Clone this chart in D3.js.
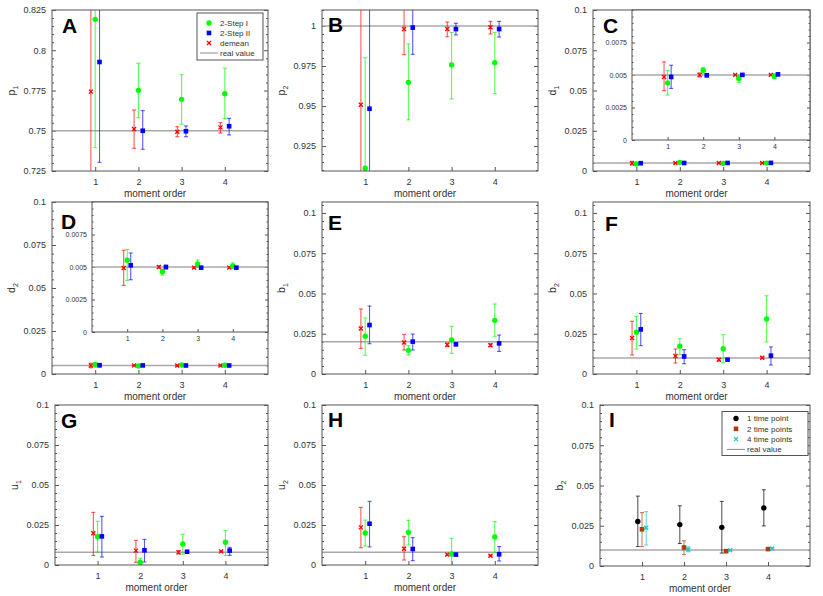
<!DOCTYPE html>
<html>
<head>
<meta charset="utf-8">
<script src="https://cdn.jsdelivr.net/npm/d3@7"></script>
<style>
body { margin: 0; background: #fff; }
svg text { font-family: "Liberation Sans", Arial, sans-serif; fill: #333; }
</style>
</head>
<body>
<div id="chart"></div>
<script>
// moment order on the x axis
const order = [1, 2, 3, 4];
const xTicks = [1, 2, 3, 4];
const yTicksA = [0.725, 0.75, 0.775, 0.8, 0.825];
const yTicksB = [0.925, 0.95, 0.975, 1];
const yTicksSmall = [0, 0.025, 0.05, 0.075, 0.1];
const yTicksInset = [0, 0.0025, 0.005, 0.0075];

// each row: [estimate, lower, upper]
const p1_demean = [[0.7743, 0.70, 0.86], [0.7511, 0.7391, 0.7629], [0.7494, 0.7463, 0.7525], [0.7521, 0.7486, 0.7550]];
const p1_step1  = [[0.8192, 0.7395, 0.88], [0.7751, 0.7581, 0.7919], [0.7695, 0.7540, 0.7848], [0.7730, 0.7575, 0.7888]];
const p1_step2  = [[0.7927, 0.7304, 0.86], [0.7500, 0.7385, 0.7625], [0.7497, 0.7463, 0.7530], [0.7528, 0.7474, 0.7577]];

const p2_demean = [[0.9508, 0.88, 1.02], [0.9981, 0.9821, 1.02], [0.9981, 0.9933, 1.0025], [0.9992, 0.9950, 1.0029]];
const p2_step1  = [[0.9111, 0.85, 0.9802], [0.9648, 0.9414, 0.9888], [0.9756, 0.9544, 0.9960], [0.9771, 0.9577, 0.9960]];
const p2_step2  = [[0.9483, 0.88, 1.02], [0.9990, 0.9823, 1.02], [0.9981, 0.9944, 1.0017], [0.9981, 0.9931, 1.0029]];

const d1_demean = [[0.00485, 0.00379, 0.00601], [0.00501, 0.00485, 0.00516], [0.00501, 0.00496, 0.00506], [0.00501, 0.00496, 0.00506]];
const d1_step1  = [[0.00439, 0.00346, 0.00534], [0.00536, 0.00513, 0.00557], [0.00474, 0.00441, 0.00501], [0.00490, 0.00472, 0.00508]];
const d1_step2  = [[0.00485, 0.00397, 0.00575], [0.00498, 0.00485, 0.00511], [0.00501, 0.00495, 0.00507], [0.00505, 0.00495, 0.00516]];

const d2_demean = [[0.00492, 0.00358, 0.00629], [0.00500, 0.00490, 0.00510], [0.00495, 0.00490, 0.00500], [0.00495, 0.00490, 0.00500]];
const d2_step1  = [[0.00552, 0.00397, 0.00635], [0.00464, 0.00438, 0.00482], [0.00523, 0.00498, 0.00554], [0.00508, 0.00490, 0.00531]];
const d2_step2  = [[0.00513, 0.00402, 0.00608], [0.00500, 0.00485, 0.00513], [0.00495, 0.00490, 0.00500], [0.00495, 0.00490, 0.00500]];

const b1_demean = [[0.0283, 0.0159, 0.0404], [0.0196, 0.0149, 0.0246], [0.0182, 0.0170, 0.0192], [0.0178, 0.0170, 0.0188]];
const b1_step1  = [[0.0234, 0.0116, 0.0348], [0.0147, 0.0118, 0.0176], [0.0211, 0.0128, 0.0296], [0.0333, 0.0234, 0.0435]];
const b1_step2  = [[0.0304, 0.0188, 0.0422], [0.0201, 0.0149, 0.0248], [0.0184, 0.0178, 0.0190], [0.0190, 0.0140, 0.0242]];

const b2_demean = [[0.0224, 0.0118, 0.0327], [0.0112, 0.0068, 0.0155], [0.0089, 0.0081, 0.0097], [0.0101, 0.0096, 0.0106]];
const b2_step1  = [[0.0259, 0.0155, 0.0358], [0.0172, 0.0120, 0.0219], [0.0157, 0.0070, 0.0244], [0.0342, 0.0199, 0.0486]];
const b2_step2  = [[0.0277, 0.0176, 0.0376], [0.0109, 0.0064, 0.0151], [0.0089, 0.0085, 0.0093], [0.0114, 0.0056, 0.0168]];

const u1_demean = [[0.0198, 0.0060, 0.0329], [0.0090, 0.0017, 0.0154], [0.0079, 0.0069, 0.0090], [0.0085, 0.0082, 0.0088]];
const u1_step1  = [[0.0177, 0.0081, 0.0273], [0.0017, 0.0002, 0.0042], [0.0131, 0.0067, 0.0192], [0.0142, 0.0060, 0.0215]];
const u1_step2  = [[0.0179, 0.0050, 0.0304], [0.0092, 0.0019, 0.0160], [0.0083, 0.0078, 0.0088], [0.0090, 0.0060, 0.0110]];

const u2_demean = [[0.0235, 0.0108, 0.0360], [0.0102, 0.0031, 0.0177], [0.0065, 0.0060, 0.0070], [0.0058, 0.0055, 0.0061]];
const u2_step1  = [[0.0200, 0.0119, 0.0281], [0.0204, 0.0125, 0.0279], [0.0069, -0.003, 0.0167], [0.0175, 0.0079, 0.0271]];
const u2_step2  = [[0.0258, 0.0113, 0.0398], [0.0100, 0.0027, 0.0171], [0.0065, 0.0061, 0.0069], [0.0067, 0.0025, 0.0115]];

const b2_tp1 = [[0.0276, 0.0121, 0.0434], [0.0257, 0.0140, 0.0374], [0.0240, 0.0080, 0.0401], [0.0361, 0.0249, 0.0474]];
const b2_tp2 = [[0.0228, 0.0121, 0.0332], [0.0115, 0.0071, 0.0157], [0.0092, 0.0088, 0.0096], [0.0105, 0.0102, 0.0108]];
const b2_tp4 = [[0.0238, 0.0130, 0.0338], [0.0103, 0.0088, 0.0119], [0.0098, 0.0095, 0.0101], [0.0109, 0.0106, 0.0112]];

const realValues = {A: 0.75, B: 1, C: 0.005, D: 0.005, E: 0.02, F: 0.01, G: 0.008, H: 0.008, I: 0.01};

const momentStyles = [
    {name: "demean", color: "#ff0000", shape: "cross", dx: -0.1},
    {name: "2-Step I", color: "#00ff00", shape: "circle", dx: 0},
    {name: "2-Step II", color: "#0000ff", shape: "square", dx: 0.1}
];
const timeStyles = [
    {name: "1 time point", color: "#000000", shape: "circle", dx: -0.1},
    {name: "2 time points", color: "#b03c0a", shape: "square", dx: 0},
    {name: "4 time points", color: "#19c8c8", shape: "cross", dx: 0.1}
];

const panels = [
    {key: "A", x: 52, y: 10, w: 216, h: 161, domain: [0.725, 0.825], ticks: yTicksA, label: "p", sub: "1",
     series: [p1_demean, p1_step1, p1_step2], styles: momentStyles, lx: 10, ly: 23,
     legend: {x: 145, y: 3, w: 66, h: 47, row0: 10, step: 10, mx: 12, order: [1, 2, 0]}},
    {key: "B", x: 322, y: 10, w: 216, h: 161, domain: [0.9094, 1.01], ticks: yTicksB, label: "p", sub: "2",
     series: [p2_demean, p2_step1, p2_step2], styles: momentStyles, lx: 6, ly: 22},
    {key: "C", x: 593, y: 10, w: 217, h: 161, domain: [0, 0.1], ticks: yTicksSmall, label: "d", sub: "1",
     series: [d1_demean, d1_step1, d1_step2], styles: momentStyles, lx: 10, ly: 23,
     inset: {x: 632, y: 10, w: 178, h: 130}},
    {key: "D", x: 52, y: 202, w: 216, h: 172, domain: [0, 0.1], ticks: yTicksSmall, label: "d", sub: "2",
     series: [d2_demean, d2_step1, d2_step2], styles: momentStyles, lx: 9, ly: 26.5,
     inset: {x: 92, y: 202, w: 176, h: 130}},
    {key: "E", x: 322, y: 202, w: 216, h: 172, domain: [0, 0.1068], ticks: yTicksSmall, label: "b", sub: "1",
     series: [b1_demean, b1_step1, b1_step2], styles: momentStyles, lx: 6, ly: 28},
    {key: "F", x: 593, y: 202, w: 217, h: 172, domain: [0, 0.1068], ticks: yTicksSmall, label: "b", sub: "2",
     series: [b2_demean, b2_step1, b2_step2], styles: momentStyles, lx: 12, ly: 29},
    {key: "G", x: 55, y: 405, w: 213, h: 160, domain: [0, 0.1], ticks: yTicksSmall, label: "u", sub: "1",
     series: [u1_demean, u1_step1, u1_step2], styles: momentStyles, lx: 6, ly: 23},
    {key: "H", x: 322, y: 405, w: 216, h: 160, domain: [0, 0.1], ticks: yTicksSmall, label: "u", sub: "2",
     series: [u2_demean, u2_step1, u2_step2], styles: momentStyles, lx: 6, ly: 22},
    {key: "I", x: 600, y: 405, w: 210, h: 161, domain: [0, 0.1], ticks: yTicksSmall, label: "b", sub: "2",
     series: [b2_tp1, b2_tp2, b2_tp4], styles: timeStyles, lx: 9, ly: 22,
     legend: {x: 122, y: 6.5, w: 86, h: 44, row0: 7, step: 10.3, mx: 14, order: [0, 1, 2]}}
];

const svg = d3.select("#chart").append("svg")
    .attr("width", 823)
    .attr("height", 596);

function minorValues(domain, step) {
    let k0 = Math.ceil(domain[0] / step - 1e-9), k1 = Math.floor(domain[1] / step + 1e-9);
    return d3.range(k0, k1 + 1).map((k) => +(k * step).toFixed(6));
}

function drawMark(sel, shape, color) {
    if (shape === "circle") {
        sel.append("circle").attr("r", 2.7).attr("fill", color);
    } else if (shape === "square") {
        sel.append("rect").attr("x", -2.3).attr("y", -2.3).attr("width", 4.6).attr("height", 4.6).attr("fill", color);
    } else {
        sel.append("path").attr("d", "M-2,-2L2,2M-2,2L2,-2")
            .attr("stroke", color).attr("stroke-width", 1.3).attr("fill", "none");
    }
}

function styleAxis(a, fs) {
    a.select(".domain").remove();
    a.selectAll(".tick line").attr("stroke", "#555");
    a.selectAll("text").attr("font-size", fs).attr("fill", "#333")
        .attr("font-family", "Liberation Sans, Arial, sans-serif");
}

// one set of axes with error bars; used for main panels and insets
function drawAxes(p, box, domain, ticks, opt, id) {
    let g = svg.append("g").attr("transform", `translate(${box.x},${box.y})`);
    let x = d3.scaleLinear().domain([0, 5]).range([0, box.w]);
    let y = d3.scaleLinear().domain(domain).range([box.h, 0]);

    g.append("rect").attr("width", box.w).attr("height", box.h).attr("fill", "#fff");
    g.append("clipPath").attr("id", "clip" + id)
        .append("rect").attr("width", box.w).attr("height", box.h);

    let minor = minorValues(domain, opt.minor).filter((v) => !ticks.some((t) => Math.abs(t - v) < 1e-9));

    styleAxis(g.append("g")
        .call(d3.axisLeft(y).tickValues(ticks).tickFormat(d3.format("~g")).tickSize(-opt.tl).tickPadding(opt.padY)), opt.fs);
    styleAxis(g.append("g")
        .call(d3.axisLeft(y).tickValues(minor).tickFormat("").tickSize(-opt.tl / 2)), opt.fs);
    styleAxis(g.append("g").attr("transform", `translate(${box.w},0)`)
        .call(d3.axisRight(y).tickValues(ticks).tickFormat("").tickSize(-opt.tl)), opt.fs);
    styleAxis(g.append("g").attr("transform", `translate(${box.w},0)`)
        .call(d3.axisRight(y).tickValues(minor).tickFormat("").tickSize(-opt.tl / 2)), opt.fs);
    styleAxis(g.append("g").attr("transform", `translate(0,${box.h})`)
        .call(d3.axisBottom(x).tickValues(xTicks).tickFormat(d3.format("d")).tickSize(-opt.tl).tickPadding(opt.padX)), opt.fs);

    // real value
    g.append("line")
        .attr("x1", 0).attr("x2", box.w)
        .attr("y1", y(realValues[p.key])).attr("y2", y(realValues[p.key]))
        .attr("stroke", "#a8a8a8").attr("stroke-width", 1.5);

    let bars = g.append("g").attr("clip-path", `url(#clip${id})`);
    p.series.forEach((data, s) => {
        let st = p.styles[s];
        let eb = bars.append("g").selectAll("g")
            .data(data)
            .enter()
            .append("g")
            .attr("transform", (d, i) => `translate(${x(order[i] + st.dx)},0)`)
            .attr("stroke", st.color)
            .attr("stroke-opacity", 0.65)
            .attr("stroke-width", 1.1);
        eb.append("line").attr("y1", (d) => y(d[1])).attr("y2", (d) => y(d[2]));
        eb.append("line").attr("x1", -2).attr("x2", 2).attr("y1", (d) => y(d[1])).attr("y2", (d) => y(d[1]));
        eb.append("line").attr("x1", -2).attr("x2", 2).attr("y1", (d) => y(d[2])).attr("y2", (d) => y(d[2]));
    });
    p.series.forEach((data, s) => {
        let st = p.styles[s];
        g.append("g").selectAll("g")
            .data(data)
            .enter()
            .append("g")
            .attr("transform", (d, i) => `translate(${x(order[i] + st.dx)},${y(d[0])})`)
            .each(function () { drawMark(d3.select(this), st.shape, st.color); });
    });

    g.append("rect").attr("width", box.w).attr("height", box.h)
        .attr("fill", "none").attr("stroke", "#555").attr("stroke-width", 1);
    return g;
}

panels.forEach((p, idx) => {
    let g = drawAxes(p, p, p.domain, p.ticks, {fs: 9, tl: 4, padY: 6, padX: 7.5, minor: 0.005}, idx);

    if (p.inset) {
        drawAxes(p, p.inset, [0, 0.01], yTicksInset, {fs: 7, tl: 3, padY: 5, padX: 4.5, minor: 0.0005}, "in" + idx);
    }

    // axis titles
    g.append("text")
        .attr("x", p.w / 2 - 5)
        .attr("y", p.h + 25.5)
        .attr("text-anchor", "middle")
        .attr("font-size", 10)
        .text("moment order");

    let yl = g.append("text")
        .attr("transform", `translate(-41,${p.h / 2}) rotate(-90)`)
        .attr("text-anchor", "middle")
        .attr("dy", "0.35em")
        .attr("font-size", 10.5);
    yl.append("tspan").text(p.label);
    yl.append("tspan").attr("font-size", 7).attr("dy", 3).text(p.sub);

    svg.append("text")
        .attr("x", p.x + p.lx)
        .attr("y", p.y + p.ly)
        .attr("font-size", 21)
        .attr("font-weight", "bold")
        .style("fill", "#000")
        .text(p.key);

    if (p.legend) {
        let L = p.legend;
        let lg = g.append("g").attr("transform", `translate(${L.x},${L.y})`);
        lg.append("rect").attr("width", L.w).attr("height", L.h)
            .attr("fill", "#fff").attr("stroke", "#555").attr("stroke-width", 1);
        L.order.forEach((s, r) => {
            let st = p.styles[s];
            let row = lg.append("g").attr("transform", `translate(0,${L.row0 + r * L.step})`);
            drawMark(row.append("g").attr("transform", `translate(${L.mx},0)`), st.shape, st.color);
            row.append("text").attr("x", L.mx + 11).attr("dy", "0.35em").attr("font-size", 8).text(st.name);
        });
        let row = lg.append("g").attr("transform", `translate(0,${L.row0 + L.order.length * L.step})`);
        row.append("line").attr("x1", L.mx - 9).attr("x2", L.mx + 9)
            .attr("stroke", "#888").attr("stroke-width", 1);
        row.append("text").attr("x", L.mx + 11).attr("dy", "0.35em").attr("font-size", 8).text("real value");
    }
});
</script>
</body>
</html>
